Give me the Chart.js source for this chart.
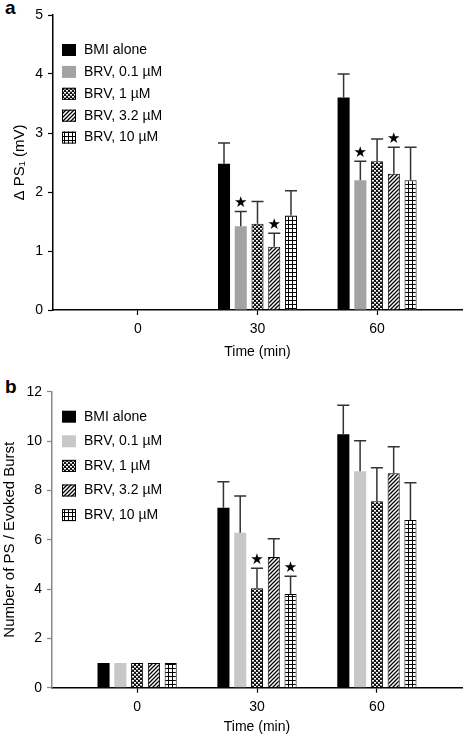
<!DOCTYPE html>
<html>
<head>
<meta charset="utf-8">
<script src="https://cdn.jsdelivr.net/npm/chart.js@4"></script>
<style>
  body { margin: 0; background: #fff; width: 466px; height: 736px; position: relative; overflow: hidden; font-family: "Liberation Sans", Arial, sans-serif; }
  .panel { position: absolute; left: 0; width: 466px; }
  .tag { position: absolute; left: 5px; font-weight: bold; font-size: 19px; }
</style>
</head>
<body>
<div class="tag" style="top:-3px">a</div>
<div class="panel" style="top:0;height:368px"><canvas id="chartA"></canvas></div>
<div class="tag" style="top:376px">b</div>
<div class="panel" style="top:376px;height:360px"><canvas id="chartB"></canvas></div>
<script>
const times = [0, 30, 60];
const seriesNames = ['BMI alone', 'BRV, 0.1 \u00b5M', 'BRV, 1 \u00b5M', 'BRV, 3.2 \u00b5M', 'BRV, 10 \u00b5M'];

// panel a: delta PS1 (mV)
const bmiA    = [0, 2.48, 3.60];
const brv01A  = [0, 1.42, 2.20];
const brv1A   = [0, 1.46, 2.52];
const brv32A  = [0, 1.07, 2.31];
const brv10A  = [0, 1.60, 2.20];
const bmiErrA   = [0, 0.35, 0.40];
const brv01ErrA = [0, 0.25, 0.32];
const brv1ErrA  = [0, 0.38, 0.38];
const brv32ErrA = [0, 0.23, 0.45];
const brv10ErrA = [0, 0.42, 0.56];
const starsA = [[0,0,0], [0,1,1], [0,0,0], [0,1,1], [0,0,0]];

// panel b: number of PS per evoked burst
const bmiB    = [1, 7.30, 10.28];
const brv01B  = [1, 6.28, 8.78];
const brv1B   = [1, 4.03, 7.56];
const brv32B  = [1, 5.30, 8.69];
const brv10B  = [1, 3.80, 6.80];
const bmiErrB   = [0, 1.05, 1.17];
const brv01ErrB = [0, 1.49, 1.23];
const brv1ErrB  = [0, 0.81, 1.36];
const brv32ErrB = [0, 0.74, 1.08];
const brv10ErrB = [0, 0.72, 1.51];
const starsB = [[0,0,0], [0,0,0], [0,1,0], [0,0,0], [0,1,0]];

const FONT = '"Liberation Sans", Arial, sans-serif';

function tile(draw) {
  const c = document.createElement('canvas');
  c.width = 4; c.height = 4;
  const g = c.getContext('2d');
  g.fillStyle = '#fff';
  g.fillRect(0, 0, 4, 4);
  draw(g);
  return document.createElement('canvas').getContext('2d').createPattern(c, 'repeat');
}
const checker = tile(g => {
  g.fillStyle = '#111';
  g.fillRect(0, 0, 4, 4);
  g.fillStyle = '#fff';
  g.fillRect(0, 0, 2, 1);
  g.fillRect(2, 2, 2, 1);
  g.fillStyle = '#999';
  g.fillRect(0, 1, 2, 1);
  g.fillRect(2, 3, 2, 1);
});
const hatch = tile(g => {
  g.strokeStyle = '#000';
  g.lineWidth = 1.3;
  g.beginPath();
  g.moveTo(-1, 5); g.lineTo(5, -1);
  g.moveTo(-1, 1); g.lineTo(1, -1);
  g.moveTo(3, 5); g.lineTo(5, 3);
  g.stroke();
});
const grid = tile(g => {
  g.fillStyle = '#000';
  g.fillRect(0, 0, 4, 1);
  g.fillRect(0, 0, 1, 4);
});

function makeSets(vals, errs, stars, grey) {
  const fills = ['#000', grey, checker, hatch, grid];
  return vals.map((v, k) => ({
    label: seriesNames[k],
    data: times.map((t, i) => ({ x: t, y: v[i] })),
    errors: errs[k],
    stars: stars[k],
    backgroundColor: fills[k],
    borderColor: '#000',
    borderWidth: k < 2 ? 0 : 1,
    categoryPercentage: 0.70,
    barPercentage: 0.72
  }));
}

const errorBars = {
  id: 'errorBars',
  afterDatasetsDraw(chart) {
    const ctx = chart.ctx;
    const yScale = chart.scales.y;
    ctx.save();
    chart.data.datasets.forEach((ds, k) => {
      const meta = chart.getDatasetMeta(k);
      meta.data.forEach((bar, i) => {
        const e = ds.errors[i];
        if (!e) return;
        const top = yScale.getPixelForValue(ds.data[i].y + e);
        const half = bar.width / 2;
        ctx.strokeStyle = '#333';
        ctx.lineWidth = 1.5;
        ctx.beginPath();
        ctx.moveTo(bar.x, bar.y);
        ctx.lineTo(bar.x, top);
        ctx.moveTo(bar.x - half, top);
        ctx.lineTo(bar.x + half, top);
        ctx.stroke();
        if (ds.stars[i]) {
          ctx.fillStyle = '#000';
          ctx.font = '15px "DejaVu Sans"';
          ctx.textAlign = 'center';
          ctx.textBaseline = 'bottom';
          ctx.fillText('\u2605', bar.x, top - 1);
        }
      });
    });
    ctx.restore();
  }
};

const innerLegend = {
  id: 'innerLegend',
  afterDraw(chart, args, opts) {
    const ctx = chart.ctx;
    ctx.save();
    chart.data.datasets.forEach((ds, k) => {
      const cy = opts.y + k * opts.gap;
      ctx.fillStyle = ds.backgroundColor;
      ctx.fillRect(62, cy - 6, 14, 12);
      if (ds.borderWidth) {
        ctx.strokeStyle = '#000';
        ctx.lineWidth = 1;
        ctx.strokeRect(62.5, cy - 5.5, 13, 11);
      }
      ctx.fillStyle = '#000';
      ctx.font = '14px ' + FONT;
      ctx.textAlign = 'left';
      ctx.textBaseline = 'middle';
      ctx.fillText(ds.label, 84, cy);
    });
    ctx.restore();
  }
};

function build(id, sets, opt) {
  new Chart(document.getElementById(id), {
    type: 'bar',
    data: { datasets: sets },
    plugins: [errorBars, innerLegend],
    options: {
      responsive: true,
      maintainAspectRatio: false,
      animation: false,
      layout: { padding: { top: opt.padTop, right: 4, left: 0, bottom: 0 } },
      plugins: {
        legend: { display: false },
        tooltip: { enabled: false },
        innerLegend: { y: opt.legY, gap: opt.legGap }
      },
      scales: {
        x: {
          type: 'linear',
          offset: false,
          min: -21.3,
          max: 81.3,
          afterBuildTicks: s => { s.ticks = times.map(t => ({ value: t })); },
          afterFit: s => { s.height = opt.xHeight; },
          ticks: { color: '#000', font: { size: 14, family: FONT }, padding: 6 },
          grid: { offset: false, drawOnChartArea: false, tickLength: 5, color: '#000', tickWidth: 1.2 },
          border: { color: '#000', width: 1.5 },
          title: { display: true, text: 'Time (min)', color: '#000', font: { size: 14, family: FONT }, padding: { top: 0, bottom: opt.xTitlePad } }
        },
        y: {
          min: 0,
          max: opt.yMax,
          ticks: { stepSize: opt.yStep, color: '#000', font: { size: 14, family: FONT }, padding: 5 },
          afterFit: s => { s.width = opt.yWidth; },
          grid: { drawOnChartArea: false, tickLength: 5, color: opt.yColor, tickWidth: 1.2 },
          border: { color: opt.yColor, width: 1.5 },
          title: { display: true, text: opt.yTitle, color: '#000', font: { size: 15, family: FONT }, padding: { top: opt.yTitlePad, bottom: 0 } }
        }
      }
    }
  });
}

build('chartA',
  makeSets([bmiA, brv01A, brv1A, brv32A, brv10A], [bmiErrA, brv01ErrA, brv1ErrA, brv32ErrA, brv10ErrA], starsA, '#a3a3a3'),
  { padTop: 15, xHeight: 58, xTitlePad: 7, yMax: 5, yStep: 1, yWidth: 53, yColor: '#000',
    yTitle: '\u0394 PS\u2081 (mV)', yTitlePad: 11, legY: 50, legGap: 21.9 });

build('chartB',
  makeSets([bmiB, brv01B, brv1B, brv32B, brv10B], [bmiErrB, brv01ErrB, brv1ErrB, brv32ErrB, brv10ErrB], starsB, '#c8c8c8'),
  { padTop: 15.7, xHeight: 48.3, xTitlePad: 0, yMax: 12, yStep: 2, yWidth: 52, yColor: '#888',
    yTitle: 'Number of PS / Evoked Burst', yTitlePad: 1, legY: 40.7, legGap: 24.6 });
</script>
</body>
</html>
